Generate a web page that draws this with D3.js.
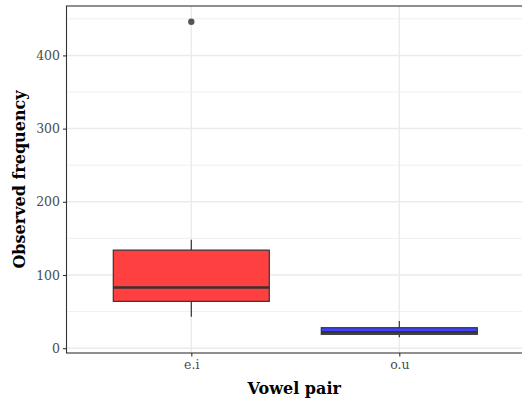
<!DOCTYPE html>
<html>
<head>
<meta charset="utf-8">
<script src="https://cdn.jsdelivr.net/npm/d3@7"></script>
<style>
  body { margin: 0; background: #fff; }
  svg text { font-family: "DejaVu Serif", "Liberation Serif", serif; }
</style>
</head>
<body>
<div id="chart"></div>
<script>
// vowel pairs and their box stats
var pairs = ['e.i', 'o.u'];
var lowWhisker = [43, 15];
var q1 = [64, 19];
var median = [83, 22];
var q3 = [134, 28];
var highWhisker = [148, 37];
var outliers = [[446], []];
var fillColors = ['#ff4040', '#4040ff'];
var yTicks = [0, 100, 200, 300, 400];
var yMinor = [50, 150, 250, 350, 450];

var w = 522, h = 400;
var margin = {left: 66.5, right: 0, top: 6, bottom: 47};

var svg = d3.select('#chart').append('svg')
  .attr('width', w)
  .attr('height', h);

var x = d3.scalePoint()
  .domain(pairs)
  .range([margin.left + 0.6 * 208, margin.left + 1.6 * 208]);

var step = x.step();

var y = d3.scaleLinear()
  .domain([-6.55, 467.5])
  .range([h - margin.bottom, margin.top]);

var g = svg.append('g');

// grid
g.selectAll('.minor').data(yMinor).enter().append('line')
  .attr('x1', margin.left).attr('x2', w)
  .attr('y1', function(d){ return y(d); }).attr('y2', function(d){ return y(d); })
  .attr('stroke', '#ebebeb').attr('stroke-width', 0.8);
g.selectAll('.major').data(yTicks).enter().append('line')
  .attr('x1', margin.left).attr('x2', w)
  .attr('y1', function(d){ return y(d); }).attr('y2', function(d){ return y(d); })
  .attr('stroke', '#ebebeb').attr('stroke-width', 1.5);
g.selectAll('.vgrid').data(pairs).enter().append('line')
  .attr('x1', function(d){ return x(d); }).attr('x2', function(d){ return x(d); })
  .attr('y1', margin.top).attr('y2', h - margin.bottom)
  .attr('stroke', '#ebebeb').attr('stroke-width', 1.5);

// boxes
var bw = step * 0.75;
pairs.forEach(function(p, i) {
  var cx = x(p);
  g.append('line')
    .attr('x1', cx).attr('x2', cx)
    .attr('y1', y(highWhisker[i])).attr('y2', y(q3[i]))
    .attr('stroke', '#333').attr('stroke-width', 1.2);
  g.append('line')
    .attr('x1', cx).attr('x2', cx)
    .attr('y1', y(q1[i])).attr('y2', y(lowWhisker[i]))
    .attr('stroke', '#333').attr('stroke-width', 1.2);
  g.append('rect')
    .attr('x', cx - bw / 2).attr('width', bw)
    .attr('y', y(q3[i])).attr('height', y(q1[i]) - y(q3[i]))
    .attr('fill', fillColors[i])
    .attr('stroke', '#333').attr('stroke-width', 1.2);
  g.append('line')
    .attr('x1', cx - bw / 2).attr('x2', cx + bw / 2)
    .attr('y1', y(median[i])).attr('y2', y(median[i]))
    .attr('stroke', '#333').attr('stroke-width', 2.4);
  g.selectAll(null).data(outliers[i]).enter().append('circle')
    .attr('cx', cx).attr('cy', function(d){ return y(d); })
    .attr('r', 3.2).attr('fill', '#555');
});

// axes
var yAxis = svg.append('g')
  .attr('transform', 'translate(' + margin.left + ',0)')
  .call(d3.axisLeft(y).tickValues(yTicks).tickSize(3.5).tickPadding(3));
var xAxis = svg.append('g')
  .attr('transform', 'translate(0,' + (h - margin.bottom) + ')')
  .call(d3.axisBottom(x).tickSize(3.5).tickPadding(4));

[yAxis, xAxis].forEach(function(a) {
  a.select('.domain').remove();
  a.selectAll('.tick line').attr('stroke', '#333').attr('stroke-width', 1.1);
  a.selectAll('.tick text').attr('fill', '#4d4d4d').style('font-size', '12.5px');
});

// panel border (left, top, bottom)
svg.append('rect')
  .attr('x', margin.left).attr('y', margin.top)
  .attr('width', w - margin.left + 2).attr('height', h - margin.bottom - margin.top)
  .attr('fill', 'none').attr('stroke', '#333').attr('stroke-width', 1.1);

// titles
svg.append('text')
  .attr('x', (margin.left + w) / 2).attr('y', 394)
  .attr('text-anchor', 'middle')
  .style('font-size', '16px').style('font-weight', 'bold')
  .text('Vowel pair');
svg.append('text')
  .attr('transform', 'translate(25,' + ((margin.top + h - margin.bottom) / 2) + ') rotate(-90)')
  .attr('text-anchor', 'middle')
  .style('font-size', '16px').style('font-weight', 'bold')
  .text('Observed frequency');
</script>
</body>
</html>
